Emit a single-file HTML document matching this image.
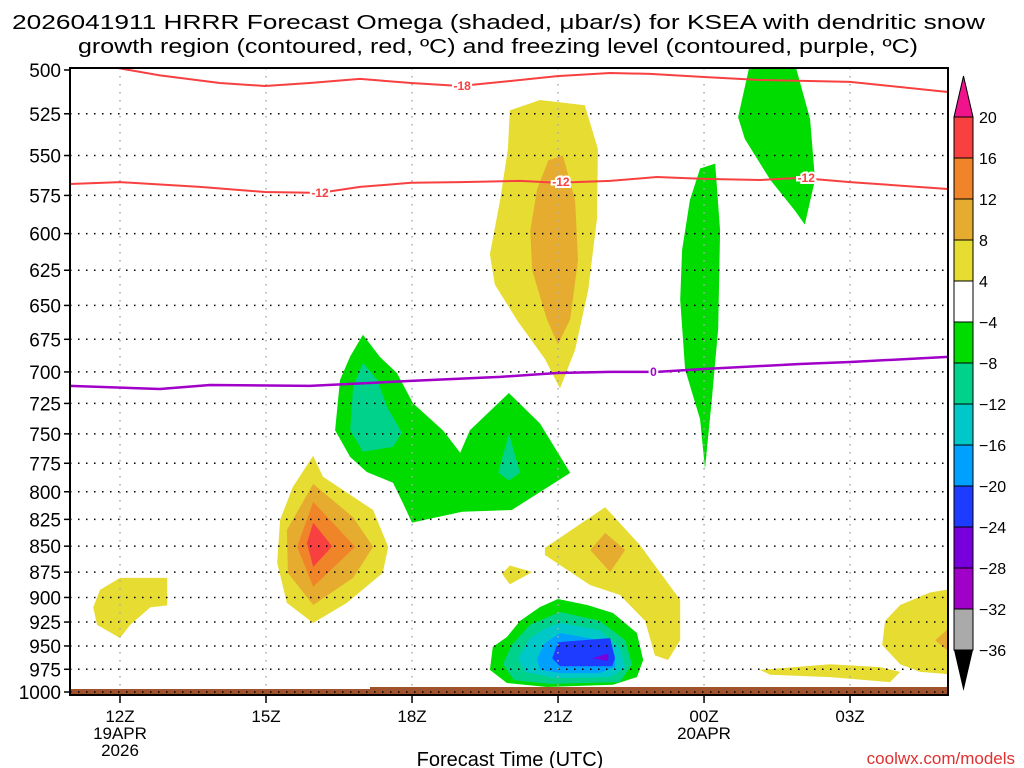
<!DOCTYPE html>
<html><head><meta charset="utf-8"><style>
html,body{margin:0;padding:0;background:#fff;}
svg{display:block;font-family:"Liberation Sans",sans-serif;}
</style></head><body>
<svg id="chart" width="1024" height="768" viewBox="0 0 1024 768" xmlns="http://www.w3.org/2000/svg">
<text x="12" y="29" font-size="20" textLength="973" lengthAdjust="spacingAndGlyphs">2026041911 HRRR Forecast Omega (shaded, μbar/s) for KSEA with dendritic snow</text>
<text x="78" y="53" font-size="20" textLength="840" lengthAdjust="spacingAndGlyphs">growth region (contoured, red, ºC) and freezing level (contoured, purple, ºC)</text>
<defs><clipPath id="plotclip"><rect x="70" y="68" width="878" height="627"/></clipPath></defs>
<g id="shades" clip-path="url(#plotclip)"></g>
<g id="grid"></g>
<g id="contours" clip-path="url(#plotclip)"></g>
<g id="axes"></g>
<g id="cbar"></g>
<text x="510" y="766" font-size="20" text-anchor="middle">Forecast Time (UTC)</text>
<text x="1015" y="764" font-size="17" fill="#e03030" text-anchor="end">coolwx.com/models</text>
</svg>
<script>
// ---- data ----
const pressureTicks=[500,525,550,575,600,625,650,675,700,725,750,775,800,825,850,875,900,925,950,975,1000];
const timeTickHours=[12,15,18,21,24,27];
const timeTickLabels=["12Z","15Z","18Z","21Z","00Z","03Z"];
const cbarLevels=[20,16,12,8,4,-4,-8,-12,-16,-20,-24,-28,-32,-36];
const cbarColors=["#f84040","#f08428","#e6ac30","#e6dc32","#ffffff","#00dc00","#00d28c","#00c8c8","#00a0ff","#1e3cff","#7800dc","#a000c8","#aaaaaa"];
// shaded regions: [colorIndex, hours[], pressures[]]
const regions=[
 [5,[23.92,24.23,24.33,24.29,24.16,24.02,23.92,23.61,23.51,23.55,23.71],[558,555,598,667,722,780,738,698,646,611,578]],
 [5,[24.94,25.87,26.18,26.28,26.07,25.87,25.36,24.84,24.7],[497,497,528,565,594,585,565,540,527]],
 [3,[20.01,20.63,21.55,21.82,21.8,21.62,21.35,21.04,20.73,20.18,19.7,19.6,19.81,19.97],[523,517,520,546,590,639,683,713,690,662,635,614,578,546]],
 [2,[20.8,21.1,21.35,21.41,21.25,21.0,20.77,20.47,20.43,20.57],[553,550,578,618,660,679,660,625,598,571]],
 [5,[16.99,17.34,17.69,18.02,18.64,18.99,19.19,19.99,20.63,21.25,20.05,19.03,18.0,17.81,17.61,17.07,16.73,16.42,16.52,16.73],[671.6,688.4,700.8,724.9,747.3,766,747,716.6,741.4,783.4,816.4,818,828,810,792,782.6,769.6,747,706.3,688]],
 [6,[16.99,17.28,17.49,17.79,17.61,16.99,16.73,16.79],[693,706,728,749,761,765,747,711.6]],
 [6,[19.99,20.22,19.99,19.77],[749.9,783.4,790,783]],
 [3,[15.97,16.17,17.2,17.51,17.4,16.66,15.97,15.43,15.23,15.29,15.55],[768.5,786.8,816.4,850.7,875.7,905.5,926,905.5,866,825.5,795.8]],
 [2,[15.97,16.79,17.2,16.79,15.97,15.45,15.43],[793,823,850.7,880.6,907.6,875.7,834.8]],
 [1,[15.97,16.83,15.97,15.64],[809,850.7,889.3,850.7]],
 [0,[15.97,16.36,15.97,15.84],[828,850,870,847]],
 [3,[11.59,12,12.97,12.97,12.62,12.21,12,11.53,11.45],[892.5,880.6,880.6,908,910,928,941.6,928,910]],
 [3,[19.85,20.01,20.47,20.01],[876.6,868.5,874.8,887]],
 [3,[20.73,21.97,22.68,23.51,23.51,23.26,22.99,22.79,22.27,21.66,21.04,20.73],[851.6,813.9,848.8,902.5,943.9,965,960,923.8,897.4,887.7,868.1,858.4]],
 [2,[21.97,22.38,22.07,21.66],[837.5,853.6,874.8,853.6]],
 [5,[21.0,21.6,22.13,22.62,22.75,22.62,22.13,20.77,19.95,19.6,19.66,19.95,20.22,20.63],[901.6,907.6,915.7,936.4,965,983.5,992,994.4,990,975.7,951,940.6,923.8,909.6]],
 [6,[21.04,21.86,22.38,22.52,22.27,20.84,20.1,19.87,20.05,20.42],[914.7,923.8,943.9,969.6,989,991,987,969.6,949,928]],
 [7,[21.04,21.86,22.27,22.38,22.07,20.94,20.32,20.18,20.42,20.73],[925.8,933.7,952,972.6,983.5,984.5,978,963,942,931.8]],
 [8,[21.04,21.86,22.17,22.17,21.86,21.04,20.63,20.57,20.73],[936.4,943.9,960,972.6,979,979,975.7,963,947]],
 [9,[21.0,22.07,22.17,22.11,21.04,20.88],[945.9,941.7,963,971.8,971.8,963]],
 [10,[21.7,22.03,22.03],[963,958,966]],
 [3,[25.15,26.59,27.62,28.03,27.82,26.59,25.36],[975.7,969.6,972.6,977.8,989,983.5,981]],
 [3,[29.2,28.64,28.03,27.72,27.66,28.03,28.44,29.2],[890.6,895,907.6,923.8,949,969.6,977.8,981]],
 [2,[29.2,28.75,29.2],[923.8,943.9,963]]
];
const m18Hours=[11.5,12,12.82,14.05,14.98,15.9,16.93,17.98,18.99,20.22,20.98,22.07,22.89,24.0,25.15,27.0,29.01];
const m18Press=[496,499.1,503,507.3,509,507.3,505,507.3,509,505.6,503.4,501.7,502.2,503.9,505.6,506.7,512.4];
const m12Hours=[10.97,12,13.64,14.98,16.11,16.93,17.98,18.99,20.22,20.98,22.07,23.03,24.0,25.15,25.97,27.0,29.01];
const m12Press=[567.7,566.5,569.6,572.8,573.4,569.6,567,566.5,565.8,567,565.8,563.3,564.5,565.2,563.9,566.5,570.9];
const frzHours=[10.97,12.82,13.85,15.9,17.98,19.81,20.98,22.07,23.03,24.0,25.97,27.0,29.01];
const frzPress=[711,713.4,710.3,711,707,703.9,700.8,700,700,697.7,693.8,692.3,688.4];
// ---- scales ----
const X=h=>120+(h-12)*48.67;
const Y=p=>70+Math.log(p/500)/Math.LN2*622;
const NS="http://www.w3.org/2000/svg";
function mk(tag,parent){const e=document.createElementNS(NS,tag);parent.appendChild(e);return e;}
const shades=document.getElementById('shades');
regions.forEach((r,i)=>{
 const poly=mk('polygon',shades);
 poly.setAttribute('points',r[1].map((h,j)=>X(h).toFixed(1)+','+Y(r[2][j]).toFixed(1)).join(' '));
 poly.setAttribute('fill',cbarColors[r[0]]);
 
 
});
// ground strip
const g1=mk('rect',shades);g1.setAttribute('x',70);g1.setAttribute('y',689);g1.setAttribute('width',300);g1.setAttribute('height',6);g1.setAttribute('fill','#a0522d');


const g2=mk('rect',shades);g2.setAttribute('x',370);g2.setAttribute('y',687);g2.setAttribute('width',578);g2.setAttribute('height',8);g2.setAttribute('fill','#a0522d');


// grid
const grid=document.getElementById('grid');
pressureTicks.forEach(p=>{if(p==500)return;
 const l=mk('line',grid);l.setAttribute('x1',70);l.setAttribute('x2',948);l.setAttribute('y1',Y(p));l.setAttribute('y2',Y(p));
 l.setAttribute('stroke','#000');l.setAttribute('stroke-width',1.5);l.setAttribute('stroke-dasharray','1.5 6.5');
 
 });
timeTickHours.forEach(h=>{const l=mk('line',grid);l.setAttribute('x1',X(h));l.setAttribute('x2',X(h));l.setAttribute('y1',68);l.setAttribute('y2',692);
 l.setAttribute('stroke','#aaa');l.setAttribute('stroke-width',1.5);l.setAttribute('stroke-dasharray','1.5 6.5');
 
 });
// contours
const cont=document.getElementById('contours');
function line(hs,ps,col,name,w){const pl=mk('polyline',cont);
 pl.setAttribute('points',hs.map((h,j)=>X(h).toFixed(1)+','+Y(ps[j]).toFixed(1)).join(' '));
 pl.setAttribute('fill','none');pl.setAttribute('stroke',col);pl.setAttribute('stroke-width',w);pl.setAttribute('stroke-linejoin','round');
 
 }
line(m18Hours,m18Press,'#f84040','contour-minus18',2);
line(m12Hours,m12Press,'#f84040','contour-minus12',2);
line(frzHours,frzPress,'#a000c8','freezing-level-contour',2.5);
function clab(h,p,t,col,name){const tx=mk('text',cont);tx.setAttribute('x',X(h));tx.setAttribute('y',Y(p)+4);
 tx.setAttribute('text-anchor','middle');tx.setAttribute('font-size','12');tx.setAttribute('font-weight','bold');tx.setAttribute('fill',col);
 tx.setAttribute('stroke','#fff');tx.setAttribute('stroke-width','4');tx.setAttribute('paint-order','stroke');tx.textContent=t;
 
 }
clab(19.03,509,'-18','#f84040','label-minus18');
clab(16.11,573.4,'-12','#f84040','label-minus12-a');
clab(21.06,566.5,'-12','#f84040','label-minus12-b');
clab(26.1,564,'-12','#f84040','label-minus12-c');
clab(22.96,700,'0','#a000c8','label-freezing');
// axes
const ax=document.getElementById('axes');
const fr=mk('rect',ax);fr.setAttribute('x',70);fr.setAttribute('y',68);fr.setAttribute('width',878);fr.setAttribute('height',627);
fr.setAttribute('fill','none');fr.setAttribute('stroke','#000');fr.setAttribute('stroke-width',2);


pressureTicks.forEach(p=>{const t=mk('text',ax);t.setAttribute('x',61);t.setAttribute('y',Y(p)+7);t.setAttribute('text-anchor','end');t.setAttribute('font-size','19');t.textContent=p;
 
 
 const k=mk('line',ax);k.setAttribute('x1',64);k.setAttribute('x2',70);k.setAttribute('y1',Y(p));k.setAttribute('y2',Y(p));k.setAttribute('stroke','#000');k.setAttribute('stroke-width',1.5);
 
 });
timeTickHours.forEach((h,i)=>{const t=mk('text',ax);t.setAttribute('x',X(h));t.setAttribute('y',722);t.setAttribute('text-anchor','middle');t.setAttribute('font-size','17');t.textContent=timeTickLabels[i];
 
 
 const k=mk('line',ax);k.setAttribute('x1',X(h));k.setAttribute('x2',X(h));k.setAttribute('y1',695);k.setAttribute('y2',703);k.setAttribute('stroke','#000');k.setAttribute('stroke-width',1.5);
 
 });
[[12,739,'19APR','date-label-19apr'],[12,756,'2026','year-label'],[24,739,'20APR','date-label-20apr']].forEach(d=>{
 const t=mk('text',ax);t.setAttribute('x',X(d[0]));t.setAttribute('y',d[1]);t.setAttribute('text-anchor','middle');t.setAttribute('font-size','17');t.textContent=d[2];
 
 });
// colorbar
const cb=document.getElementById('cbar');
const step=(650-117)/13;
cbarColors.forEach((c,i)=>{const r=mk('rect',cb);r.setAttribute('x',954);r.setAttribute('y',117+i*step);r.setAttribute('width',19);r.setAttribute('height',step);
 r.setAttribute('fill',c);r.setAttribute('stroke','#000');r.setAttribute('stroke-width',1);
 
 });
const tt=mk('polygon',cb);tt.setAttribute('points','954,117 973,117 963.5,76');tt.setAttribute('fill','#f0148c');tt.setAttribute('stroke','#000');


const tb=mk('polygon',cb);tb.setAttribute('points','954,650 973,650 963.5,691');tb.setAttribute('fill','#000');


cbarLevels.forEach((v,i)=>{const t=mk('text',cb);t.setAttribute('x',979);t.setAttribute('y',117+i*step+6);t.setAttribute('font-size','16');
 t.textContent=v<0?'\u2212'+(-v):String(v);
 
 });
</script>
</body></html>
